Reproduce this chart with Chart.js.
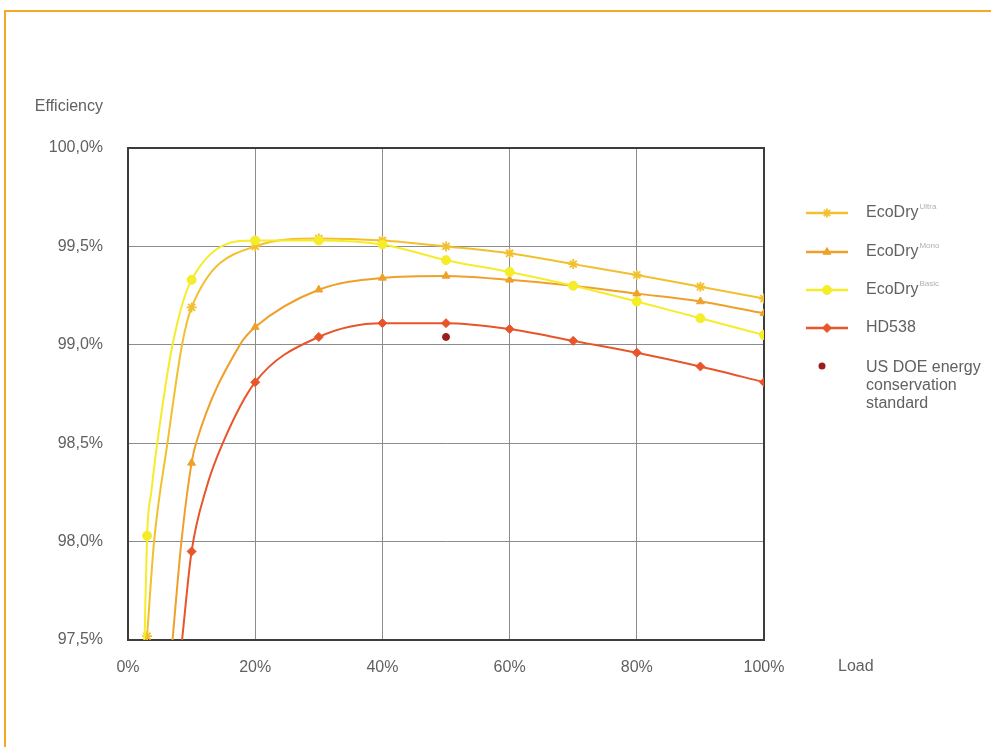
<!DOCTYPE html>
<html>
<head>
<meta charset="utf-8">
<script src="https://cdn.jsdelivr.net/npm/chart.js@4.4.0/dist/chart.umd.min.js"></script>
<style>
  html, body { margin: 0; padding: 0; background: #fff; }
  #frame { position: absolute; left: 4px; top: 10px; width: 1000px; height: 760px;
           border-left: 2px solid #f6a823; border-top: 2px solid #f6a823; }
  #wrap { position: absolute; left: 0; top: 0; width: 991px; height: 747px; }
</style>
</head>
<body>
<div id="frame"></div>
<div id="wrap"><canvas id="effChart" width="991" height="747"></canvas></div>
<script>
// efficiency vs load
const seriesNames = ['EcoDry', 'EcoDry', 'EcoDry', 'HD538'];
const seriesSup = ['Ultra', 'Mono', 'Basic', ''];
const doeLabel = ['US DOE energy', 'conservation', 'standard'];

// loads where the measured points (markers) sit
const markerLoads = [3, 10, 20, 30, 40, 50, 60, 70, 80, 90, 100];

const loadUltra = [3, 4.1, 6.2, 8.5, 10, 20, 30, 40, 50, 60, 70, 80, 90, 100];
const effUltra = [97.52, 98.0, 98.5, 99.0, 99.19, 99.50, 99.54, 99.53, 99.50, 99.465, 99.41, 99.355, 99.295, 99.235];

const loadMono = [7.0, 8.4, 10, 10.7, 17.6, 20, 30, 40, 50, 60, 70, 80, 90, 100];
const effMono = [97.5, 98.0, 98.40, 98.5, 99.0, 99.09, 99.28, 99.34, 99.35, 99.33, 99.30, 99.26, 99.22, 99.16];

const loadBasic = [2.6, 3, 3.7, 4.6, 7.0, 10, 20, 30, 40, 50, 60, 70, 80, 90, 100];
const effBasic = [97.5, 98.03, 98.26, 98.5, 99.0, 99.33, 99.53, 99.53, 99.51, 99.43, 99.37, 99.30, 99.22, 99.135, 99.05];

const loadHD = [8.5, 10, 12.3, 14.9, 20, 30, 40, 50, 60, 70, 80, 90, 100];
const effHD = [97.5, 97.95, 98.27, 98.5, 98.81, 99.04, 99.11, 99.11, 99.08, 99.02, 98.96, 98.89, 98.81];

const loadDOE = [50];
const effDOE = [99.04];

const xTicks = [0, 20, 40, 60, 80, 100];
const yTicks = [97.5, 98.0, 98.5, 99.0, 99.5, 100.0];

const colors = ['#f2c02e', '#efa02c', '#f5ec2a', '#e8552a'];
const doeColor = '#9a1c1c';
const pointStyles = ['star', 'triangle', 'circle', 'rectRot'];
const textColor = '#616161';
const fontFamily = "'Liberation Sans', Arial, sans-serif";

function pts(xs, ys) {
  return xs.map((x, i) => ({ x: x, y: ys[i] }));
}

function lineSet(i, xs, ys) {
  return {
    label: seriesNames[i] + seriesSup[i],
    data: pts(xs, ys),
    borderColor: colors[i],
    backgroundColor: colors[i],
    borderWidth: 2,
    pointStyle: pointStyles[i],
    pointRadius: ctx => markerLoads.includes(ctx.raw.x) ? (i == 0 ? 5 : 4.5) : 0,
    pointBorderWidth: i == 0 ? 1.8 : 1,
    cubicInterpolationMode: 'monotone',
    fill: false,
    order: 4 - i
  };
}

const sideLegend = {
  id: 'sideLegend',
  beforeDatasetsDraw(chart) {
    const a = chart.chartArea;
    const c = chart.ctx;
    c.save();
    c.strokeStyle = '#3c3c3c';
    c.lineWidth = 2;
    c.strokeRect(a.left, a.top, a.right - a.left, a.bottom - a.top);
    c.restore();
  },
  afterDraw(chart) {
    const c = chart.ctx;
    const a = chart.chartArea;
    c.save();
    c.fillStyle = textColor;
    c.font = '16px ' + fontFamily;
    c.textBaseline = 'middle';
    c.textAlign = 'right';
    c.fillText('Efficiency', a.left - 25, a.top - 41);
    c.textAlign = 'left';
    c.fillText('Load', a.right + 74, a.bottom + 27);

    const rows = [213, 252, 290, 328];
    for (let i = 0; i < 4; i++) {
      const y = rows[i];
      c.strokeStyle = colors[i];
      c.lineWidth = 2.5;
      c.beginPath();
      c.moveTo(806, y);
      c.lineTo(848, y);
      c.stroke();
      c.fillStyle = colors[i];
      c.strokeStyle = colors[i];
      c.lineWidth = i == 0 ? 1.8 : 1;
      Chart.helpers.drawPoint(c, { pointStyle: pointStyles[i], radius: 4.5, borderWidth: 1, rotation: 0 }, 827, y);
      c.fillStyle = textColor;
      c.font = '16px ' + fontFamily;
      c.fillText(seriesNames[i], 866, y);
      if (seriesSup[i]) {
        const w = c.measureText(seriesNames[i]).width;
        c.fillStyle = '#b0b0b0';
        c.font = '8px ' + fontFamily;
        c.fillText(seriesSup[i], 866 + w + 1, y - 6);
      }
    }
    c.fillStyle = doeColor;
    c.beginPath();
    c.arc(822, 366, 3.5, 0, Math.PI * 2);
    c.fill();
    c.fillStyle = textColor;
    c.font = '16px ' + fontFamily;
    doeLabel.forEach((t, k) => c.fillText(t, 866, 368 + k * 18));
    c.restore();
  }
};

new Chart(document.getElementById('effChart'), {
  type: 'line',
  data: {
    datasets: [
      lineSet(0, loadUltra, effUltra),
      lineSet(1, loadMono, effMono),
      lineSet(2, loadBasic, effBasic),
      lineSet(3, loadHD, effHD),
      {
        label: 'US DOE energy conservation standard',
        data: pts(loadDOE, effDOE),
        showLine: false,
        pointRadius: 3.5,
        pointBackgroundColor: doeColor,
        pointBorderColor: doeColor,
        order: 0
      }
    ]
  },
  options: {
    responsive: false,
    animation: false,
    layout: { padding: { left: 0, top: 148, right: 227, bottom: 0 } },
    plugins: { legend: { display: false }, tooltip: { enabled: false } },
    scales: {
      x: {
        type: 'linear',
        min: 0,
        max: 100,
        afterBuildTicks: s => { s.ticks = xTicks.map(v => ({ value: v })); },
        afterFit: s => { s.height = 107; },
        grid: { color: '#8c8c8c', lineWidth: 1, drawTicks: false },
        border: { color: '#3c3c3c', width: 2 },
        ticks: {
          padding: 18,
          color: textColor,
          font: { family: fontFamily, size: 16 },
          callback: v => v + '%'
        }
      },
      y: {
        type: 'linear',
        min: 97.5,
        max: 100,
        afterBuildTicks: s => { s.ticks = yTicks.map(v => ({ value: v })); },
        afterFit: s => { s.width = 128; },
        grid: { color: '#8c8c8c', lineWidth: 1, drawTicks: false },
        border: { color: '#3c3c3c', width: 2 },
        ticks: {
          padding: 25,
          color: textColor,
          font: { family: fontFamily, size: 16 },
          callback: v => v.toFixed(1).replace('.', ',') + '%'
        }
      }
    }
  },
  plugins: [sideLegend]
});
</script>
</body>
</html>
